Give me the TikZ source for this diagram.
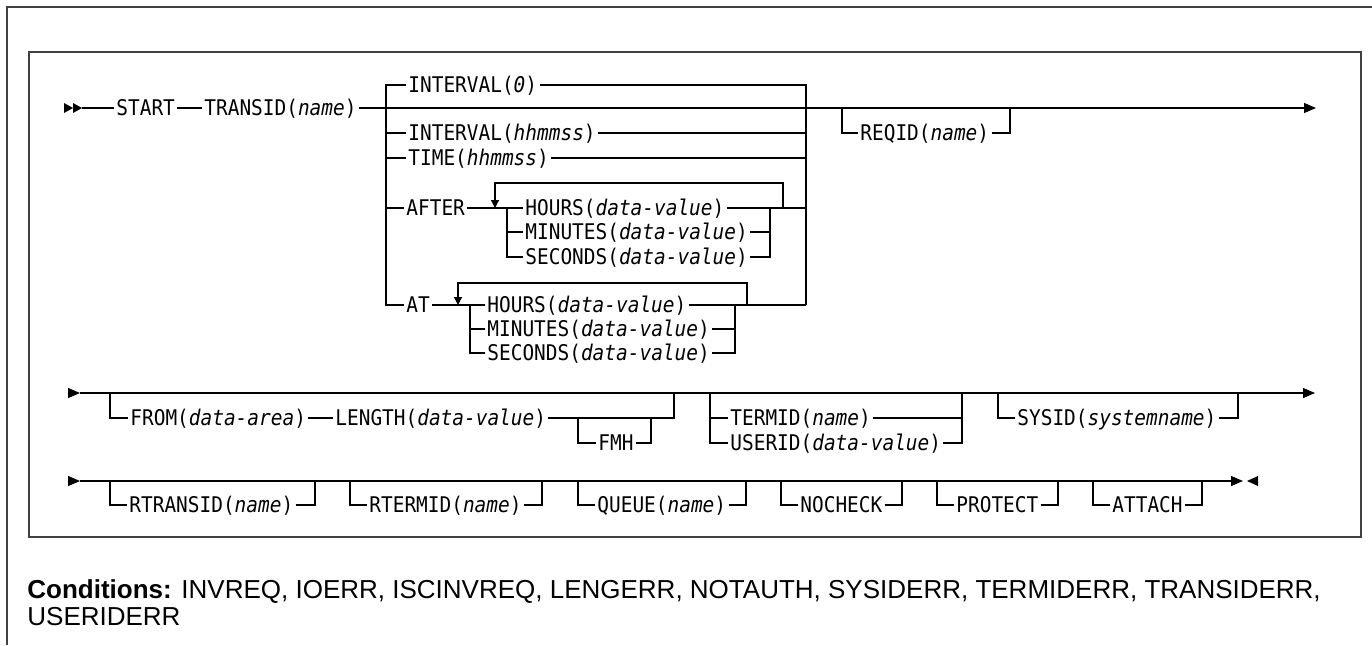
\documentclass[tikz,border=0pt]{standalone}
\usepackage{fontspec}
\usepackage{tikz}
\usetikzlibrary{arrows.meta}
\newfontfamily\synfont{DejaVu Sans Mono}[FakeStretch=0.9]
\newfontfamily\condfont{Liberation Sans}
\definecolor{SynInk}{RGB}{0,0,0}
\definecolor{SynFrame}{RGB}{64,64,64}
\tikzset{
  syn/kw/.style={
    anchor=west,
    inner xsep=1pt,
    inner ysep=0pt,
    text height=7.9pt,
    text depth=0pt,
    text=SynInk,
    font=\synfont\fontsize{10.8}{12}\selectfont
  },
  syn/cond/.style={
    anchor=base west,
    inner sep=0pt,
    text=SynInk,
    font=\condfont\fontsize{13}{15}\selectfont
  },
  syn/rail/.style={draw=SynInk, line width=0.6pt},
  syn/tip/.style={-{Triangle[length=6pt,width=5pt]}, line width=0.6pt, draw=SynInk},
  syn/loop/.style={-{Triangle[length=4pt,width=4pt]}, line width=0.6pt, draw=SynInk},
  syn/frame/.style={draw=SynFrame, line width=0.9pt}
}

\begin{document}
\begin{tikzpicture}[x=0.5pt,y=-0.5pt]
  \useasboundingbox (0,0) rectangle (1372,645);
  % frames
  \draw[syn/frame, line width=0.7pt] (7,645) -- (7,7) -- (1372,7);
  \draw[syn/frame] (29,52) rectangle (1361,537);

  % row 1
  \node[syn/kw] (start) at (114,108) {START};
  \node[syn/kw] (transid) at (202,108) {TRANSID(\textit{name})};
  \coordinate (r1end) at (1316,108);
  \foreach \x in {64,73} \fill[SynInk] (\x,103) -- (\x+9,108) -- (\x,113) -- cycle;
  \draw[syn/rail] (82,108) -- (start.west);
  \draw[syn/rail] (start.east) -- (transid.west);
  \draw[syn/tip] (transid.east) -- (r1end);

  % delay choices
  \coordinate (g1l) at (386,85);
  \coordinate (g1r) at (806,85);
  \node[syn/kw] (int0) at (406,85) {INTERVAL(\textit{0})};
  \node[syn/kw] (inthms) at (406,133) {INTERVAL(\textit{hhmmss})};
  \node[syn/kw] (timehms) at (406,158) {TIME(\textit{hhmmss})};
  \node[syn/kw] (after) at (404,208) {AFTER};
  \node[syn/kw] (atkw) at (404,305) {AT};
  \draw[syn/rail] (int0.west) -| (atkw.west -| g1l) -- (atkw.west);
  \draw[syn/rail] (int0.east) -| (g1r |- atkw.west);
  \foreach \n in {inthms,timehms,after} \draw[syn/rail] (\n.west -| g1l) -- (\n.west);
  \foreach \n in {inthms,timehms} \draw[syn/rail] (\n.east) -- (\n.east -| g1r);

  % AFTER repeat group
  \node[syn/kw] (ahours) at (523,208) {HOURS(\textit{data-value})};
  \node[syn/kw] (amins) at (523,232) {MINUTES(\textit{data-value})};
  \node[syn/kw] (asecs) at (523,257) {SECONDS(\textit{data-value})};
  \draw[syn/rail] (after.east) -- (ahours.west);
  \draw[syn/rail] (ahours.east) -- (ahours.east -| g1r);
  \draw[syn/rail] (507,208) |- (asecs.west);
  \draw[syn/rail] (507,232) -- (amins.west);
  \draw[syn/rail] (amins.east) -- (770,232);
  \draw[syn/rail] (asecs.east) -| (770,208);
  \draw[syn/loop] (783,208) |- (495,183) -- (495,208);

  % AT repeat group
  \node[syn/kw] (thours) at (485,305) {HOURS(\textit{data-value})};
  \node[syn/kw] (tmins) at (485,329) {MINUTES(\textit{data-value})};
  \node[syn/kw] (tsecs) at (485,353) {SECONDS(\textit{data-value})};
  \draw[syn/rail] (atkw.east) -- (thours.west);
  \draw[syn/rail] (thours.east) -- (thours.east -| g1r);
  \draw[syn/rail] (470,305) |- (tsecs.west);
  \draw[syn/rail] (470,329) -- (tmins.west);
  \draw[syn/rail] (tmins.east) -- (735,329);
  \draw[syn/rail] (tsecs.east) -| (735,305);
  \draw[syn/loop] (747,305) |- (458,283) -- (458,305);

  % REQID
  \node[syn/kw] (reqid) at (858,133) {REQID(\textit{name})};
  \draw[syn/rail] (842,108) |- (reqid.west);
  \draw[syn/rail] (reqid.east) -| (1010,108);

  % row 2
  \draw[syn/tip] (68,393) -- (80,393);
  \draw[syn/tip] (80,393) -- (1315,393);
  \node[syn/kw] (from) at (128,418) {FROM(\textit{data-area})};
  \node[syn/kw] (length) at (333,418) {LENGTH(\textit{data-value})};
  \node[syn/kw] (fmh) at (596,443) {FMH};
  \node[syn/kw] (termid) at (728,418) {TERMID(\textit{name})};
  \node[syn/kw] (userid) at (728,443) {USERID(\textit{data-value})};
  \node[syn/kw] (sysid) at (1015,418) {SYSID(\textit{systemname})};
  \draw[syn/rail] (110,393) |- (from.west);
  \draw[syn/rail] (from.east) -- (length.west);
  \draw[syn/rail] (length.east) -| (674,393);
  \draw[syn/rail] (578,418) |- (fmh.west);
  \draw[syn/rail] (fmh.east) -| (651,418);
  \draw[syn/rail] (710,393) |- (userid.west);
  \draw[syn/rail] (710,418) -- (termid.west);
  \draw[syn/rail] (termid.east) -- (962,418);
  \draw[syn/rail] (userid.east) -| (962,393);
  \draw[syn/rail] (998,393) |- (sysid.west);
  \draw[syn/rail] (sysid.east) -| (1238,393);

  % row 3
  \draw[syn/tip] (68,481) -- (80,481);
  \draw[syn/tip] (80,481) -- (1243,481);
  \fill[SynInk] (1247,481) -- (1258,476) -- (1258,486) -- cycle;
  \foreach \n/\t/\x/\l/\r in {rtransid/{RTRANSID(\textit{name})}/127/110/315,
      rtermid/{RTERMID(\textit{name})}/367/350/542,
      queue/{QUEUE(\textit{name})}/595/578/746,
      nocheck/NOCHECK/798/781/902,
      protect/PROTECT/954/937/1058,
      attach/ATTACH/1110/1093/1202}{
    \node[syn/kw] (\n) at (\x,505) {\t};
    \draw[syn/rail] (\l,481) |- (\n.west);
    \draw[syn/rail] (\n.east) -| (\r,481);
  }

  % conditions
  \node[syn/cond] (cond) at (27,598) {\textbf{Conditions:} INVREQ, IOERR, ISCINVREQ, LENGERR, NOTAUTH, SYSIDERR, TERMIDERR, TRANSIDERR,};
  \node[syn/cond] (condb) at (27,625) {USERIDERR};
\end{tikzpicture}
\end{document}
